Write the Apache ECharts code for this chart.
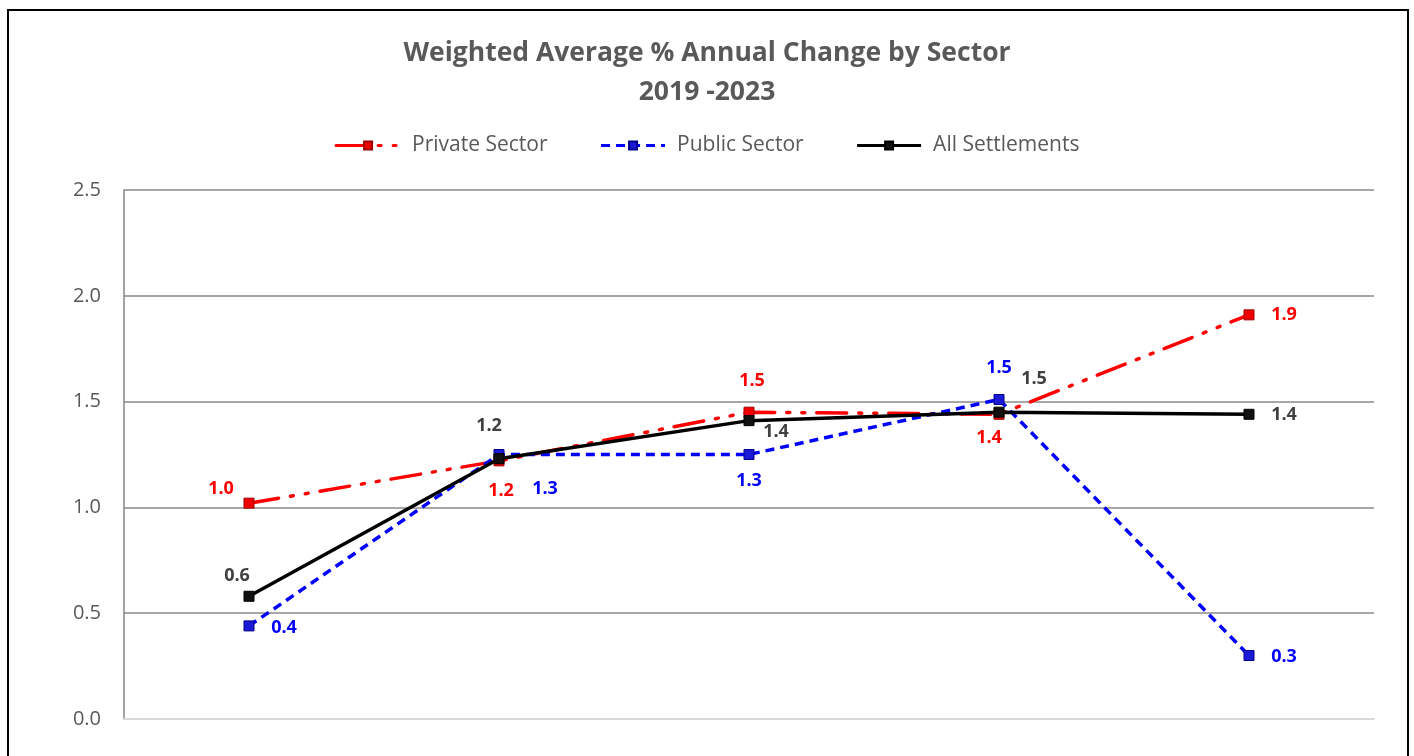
<!DOCTYPE html>
<html lang="en">
<head>
    <meta charset="UTF-8">
    <script src="https://cdn.jsdelivr.net/npm/echarts@6/dist/echarts.min.js"></script>
    <title>Weighted Average % Annual Change by Sector</title>
    <style type="text/css">
        html, body { margin: 0; padding: 0; background: #fff; }
        #chart { width: 1414px; height: 756px; }
    </style>
</head>
<body>
<div id="chart"></div>

<script type="text/javascript">
    // data
    const years = ['2019', '2020', '2021', '2022', '2023'];
    const privateSector = [1.02, 1.22, 1.45, 1.44, 1.91];
    const publicSector = [0.44, 1.25, 1.25, 1.51, 0.30];
    const allSettlements = [0.58, 1.23, 1.41, 1.45, 1.44];
    const yTicks = [0, 0.5, 1.0, 1.5, 2.0, 2.5];

    // where each value label sits relative to its marker (px)
    const privateLabelOffset = [[-28, -14], [2, 30], [3, -31], [-10, 24], [35, 0]];
    const publicLabelOffset = [[35, 2], [46, 34], [0, 26], [0, -32], [35, 1]];
    const allLabelOffset = [[-12, -20], [-10, -33], [27, 11], [35, -33], [35, 1]];

    const FONT = 'Open Sans';
    const GREY_TEXT = '#595959';

    function fmt(v) {
        return (Math.round(v * 10) / 10).toFixed(1);
    }

    function withLabels(values, offsets, color) {
        return values.map(function (v, i) {
            return {
                value: v,
                label: {
                    show: true,
                    position: 'inside',
                    offset: offsets[i],
                    formatter: fmt(v),
                    color: color,
                    fontFamily: FONT,
                    fontWeight: 'bold',
                    fontSize: 18
                }
            };
        });
    }

    const myChart = echarts.init(document.getElementById('chart'));

    const option = {
        backgroundColor: '#fff',
        animation: false,
        graphic: [{
            type: 'rect',
            shape: { x: 8, y: 10, width: 1400, height: 800 },
            style: { fill: 'none', stroke: '#000', lineWidth: 2 },
            silent: true
        }],
        title: {
            text: 'Weighted Average % Annual Change by Sector\n2019 -2023',
            left: 'center',
            top: 29,
            textStyle: {
                fontFamily: FONT,
                fontSize: 26.5,
                fontWeight: 'bold',
                color: GREY_TEXT,
                lineHeight: 39
            }
        },
        legend: {
            data: ['Private Sector', 'Public Sector', 'All Settlements'],
            top: 130,
            left: 'center',
            itemWidth: 64,
            itemHeight: 10,
            itemGap: 52,
            lineStyle: { width: 3 },
            textStyle: { fontFamily: FONT, fontSize: 21, color: GREY_TEXT, padding: [0, 0, 0, 7] }
        },
        grid: { left: 124, right: 40, top: 190, bottom: 37, containLabel: false },
        xAxis: {
            type: 'category',
            data: years,
            boundaryGap: true,
            axisLine: { lineStyle: { color: '#d9d9d9', width: 2 } },
            axisTick: { show: false },
            axisLabel: { show: false }
        },
        yAxis: {
            type: 'value',
            min: yTicks[0],
            max: yTicks[yTicks.length - 1],
            interval: 0.5,
            axisLine: { show: true, lineStyle: { color: '#868686', width: 1.5 } },
            axisTick: { show: false },
            axisLabel: {
                margin: 23,
                fontFamily: FONT,
                fontSize: 20,
                color: GREY_TEXT,
                formatter: function (v) { return v.toFixed(1); }
            },
            splitLine: { lineStyle: { color: '#8a8a8a', width: 1.5 } }
        },
        series: [{
            name: 'Private Sector',
            type: 'line',
            data: withLabels(privateSector, privateLabelOffset, '#ff0000'),
            symbol: 'rect',
            symbolSize: 10,
            itemStyle: { color: '#ee0000', borderColor: '#a00000', borderWidth: 1 },
            lineStyle: { color: '#ff0000', width: 3.5, type: [30, 12, 3, 12, 3, 12], cap: 'round' }
        }, {
            name: 'Public Sector',
            type: 'line',
            data: withLabels(publicSector, publicLabelOffset, '#0000ff'),
            symbol: 'rect',
            symbolSize: 10,
            itemStyle: { color: '#1a1ad6', borderColor: '#00008a', borderWidth: 1 },
            lineStyle: { color: '#0000ff', width: 3.5, type: [9, 6] }
        }, {
            name: 'All Settlements',
            type: 'line',
            data: withLabels(allSettlements, allLabelOffset, '#404040'),
            symbol: 'rect',
            symbolSize: 10,
            itemStyle: { color: '#111111', borderColor: '#000000', borderWidth: 1 },
            lineStyle: { color: '#000000', width: 3.5 }
        }]
    };

    myChart.setOption(option);
</script>
</body>
</html>
